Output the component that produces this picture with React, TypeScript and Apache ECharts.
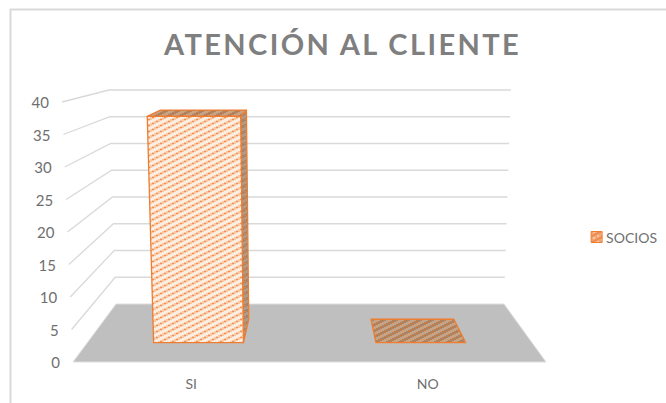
import React, { useEffect, useRef } from "react";
import * as echarts from "echarts";

const titleText = "ATENCIÓN AL CLIENTE";
const seriesName = "SOCIOS";
const categories = ["SI", "NO"];
const socios = [37, 0];
const valueTicks = [0, 5, 10, 15, 20, 25, 30, 35, 40];

const ORANGE = "#ed7d31";
const GRID = "#d9d9d9";
const FLOOR = "#bfbfbf";
const TEXT = "#6f6f6f";
const FONT = "Lato, Carlito, sans-serif";

// Perspective of the 3D box: the walls recede toward a vanishing column.
const VANISH_RATIO = 0.506; // share of the plot width
const FLOOR_RISE = 58; // px between front and back floor edges
const BACK_PER_UNIT = 5.35; // px per value unit on the back wall
const SHRINK_BACK = 0.18; // narrowing of the back floor edge
const SPREAD_FRONT_TOP = 0.046; // widening of the front plane at the axis top
const SPREAD_BACK_TOP = 0.03; // widening of the back wall at the axis top
const BAR_DEPTH_FRONT = 0.333;
const BAR_DEPTH_BACK = 0.737;
const BAR_WIDTH_SHARE = 0.404;
const AXIS_MAX = 40;

// Diagonal hatch tile used for the column faces.
function hatch(bg: string, stripe: string, dot: string) {
  const c = document.createElement("canvas");
  c.width = 12;
  c.height = 6;
  const g = c.getContext("2d")!;
  g.fillStyle = bg;
  g.fillRect(0, 0, 12, 6);
  for (let y = 0; y < 6; y++) {
    for (let x = 0; x < 12; x++) {
      const k = (x + 2 * y) % 12;
      if (k < 6) {
        g.fillStyle = k >= 2 && k <= 3 && x % 4 < 2 ? dot : stripe;
        g.fillRect(x, y, 1, 1);
      }
    }
  }
  return { image: c, repeat: "repeat" as const };
}

function makeProjector(api: any, sys: any) {
  const vx = sys.x + sys.width * VANISH_RATIO;
  return (fx: number, v: number, t: number): number[] => {
    const fy = api.coord([0, v])[1];
    const by = api.coord([0, 0])[1] - FLOOR_RISE - v * BACK_PER_UNIT;
    const h = v / AXIS_MAX;
    const sFront = 1 + SPREAD_FRONT_TOP * h;
    const sBack = 1 - SHRINK_BACK + SPREAD_BACK_TOP * h;
    const s = sFront + (sBack - sFront) * t;
    return [vx + (fx - vx) * s, fy + (by - fy) * t];
  };
}

export default function App() {
  const ref = useRef<HTMLDivElement>(null);
  useEffect(() => {
    const chart = echarts.init(ref.current!, undefined, { renderer: "svg" });
    const front = hatch("#feeee2", "#f9c8a5", "#f0914f");
    const dark = hatch("#c7a283", "#ad8465", "#d0742f");
    const side = hatch("#b39a86", "#a08570", "#d8864a");
    const swatch = hatch("#f0894a", "#f7c7a6", "#ed7d31");

    chart.setOption({
      animation: false,
      backgroundColor: "#fff",
      title: {
        text: titleText,
        left: 159,
        top: 24,
        textStyle: { fontFamily: FONT, fontSize: 29, fontWeight: "bold", color: "#7f7f7f" },
      },
      legend: {
        right: 4,
        top: 225,
        itemWidth: 11,
        itemHeight: 11,
        itemGap: 4,
        selectedMode: false,
        textStyle: { fontFamily: FONT, fontSize: 14, color: TEXT, padding: [0, 0, 0, -1] },
        data: [{ name: seriesName, icon: "rect", itemStyle: { color: swatch, borderColor: ORANGE, borderWidth: 1 } }],
      },
      graphic: [
        { type: "line", silent: true, shape: { x1: 10, y1: 9.5, x2: 666, y2: 9.5 }, style: { stroke: GRID, lineWidth: 2 } },
        { type: "line", silent: true, shape: { x1: 10.5, y1: 9, x2: 10.5, y2: 403 }, style: { stroke: GRID, lineWidth: 2 } },
      ],
      grid: { left: 73, width: 473, top: 102, height: 260 },
      xAxis: {
        type: "category",
        data: categories,
        axisLine: { show: false },
        axisTick: { show: false },
        axisLabel: { margin: 14, fontFamily: FONT, fontSize: 14, color: TEXT },
      },
      yAxis: {
        type: "value",
        min: 0,
        max: AXIS_MAX,
        interval: 5,
        axisLine: { show: false },
        axisTick: { show: false },
        axisLabel: { show: false },
        splitLine: { show: false },
      },
      series: [
        {
          // Floor and receding gridlines of the box
          type: "custom",
          name: "rejilla",
          silent: true,
          clip: false,
          z: 1,
          data: valueTicks.map((v) => [0, v]),
          renderItem(params: any, api: any) {
            const sys = params.coordSys;
            const P = makeProjector(api, sys);
            const v = api.value(1);
            const L = sys.x;
            const R = sys.x + sys.width;
            if (v === 0) {
              return {
                type: "polygon",
                shape: { points: [P(L, 0, 0), P(R, 0, 0), P(R, 0, 1), P(L, 0, 1)] },
                style: { fill: FLOOR, stroke: "#dedede", lineWidth: 1 },
              };
            }
            const a = P(L, v, 0);
            const b = P(L, v, 1);
            const c = P(R, v, 1);
            return {
              type: "polyline",
              shape: { points: [a, b, c] },
              style: { fill: "none", stroke: GRID, lineWidth: 1.3 },
            };
          },
        },
        {
          // Value labels, set along the leaning front edge
          type: "custom",
          name: "escala",
          silent: true,
          clip: false,
          z: 2,
          data: valueTicks.map((v) => [0, v]),
          renderItem(params: any, api: any) {
            const P = makeProjector(api, params.coordSys);
            const v = api.value(1);
            const p = P(params.coordSys.x, v, 0);
            return {
              type: "text",
              x: p[0] - 13,
              y: p[1],
              style: {
                text: String(v),
                align: "right",
                verticalAlign: "middle",
                fontFamily: FONT,
                fontSize: 15,
                fill: TEXT,
              },
            };
          },
        },
        {
          // Columns: right side, top and front faces
          type: "custom",
          name: seriesName,
          clip: false,
          z: 3,
          encode: { x: 0, y: 1 },
          data: socios.map((v, i) => [i, v]),
          renderItem(params: any, api: any) {
            const P = makeProjector(api, params.coordSys);
            const v = api.value(1);
            const cx = api.coord([api.value(0), 0])[0];
            const half = (api.size([1, 0])[0] * BAR_WIDTH_SHARE) / 2;
            const l = cx - half;
            const r = cx + half;
            const tf = BAR_DEPTH_FRONT;
            const tb = BAR_DEPTH_BACK;
            const edge = { stroke: ORANGE, lineWidth: 1.3, lineJoin: "round" };
            const faces: any[] = [];
            if (v > 0) {
              faces.push({
                type: "polygon",
                shape: { points: [P(r, 0, tf), P(r, 0, tb), P(r, v, tb), P(r, v, tf)] },
                style: { fill: side, ...edge },
              });
            }
            faces.push({
              type: "polygon",
              shape: { points: [P(l, v, tf), P(r, v, tf), P(r, v, tb), P(l, v, tb)] },
              style: { fill: dark, ...edge },
            });
            if (v > 0) {
              faces.push({
                type: "polygon",
                shape: { points: [P(l, 0, tf), P(r, 0, tf), P(r, v, tf), P(l, v, tf)] },
                style: { fill: front, ...edge },
              });
            }
            return { type: "group", children: faces };
          },
        },
      ],
    });

    // The heading is tracked out; the SVG text node takes the spacing directly.
    ref.current!.querySelectorAll("text").forEach((node) => {
      if (node.textContent === titleText) node.style.letterSpacing = "2.4px";
    });
    return () => chart.dispose();
  }, []);
  return <div ref={ref} style={{ position: "fixed", left: 0, top: 0, width: 666, height: 403 }} />;
}
